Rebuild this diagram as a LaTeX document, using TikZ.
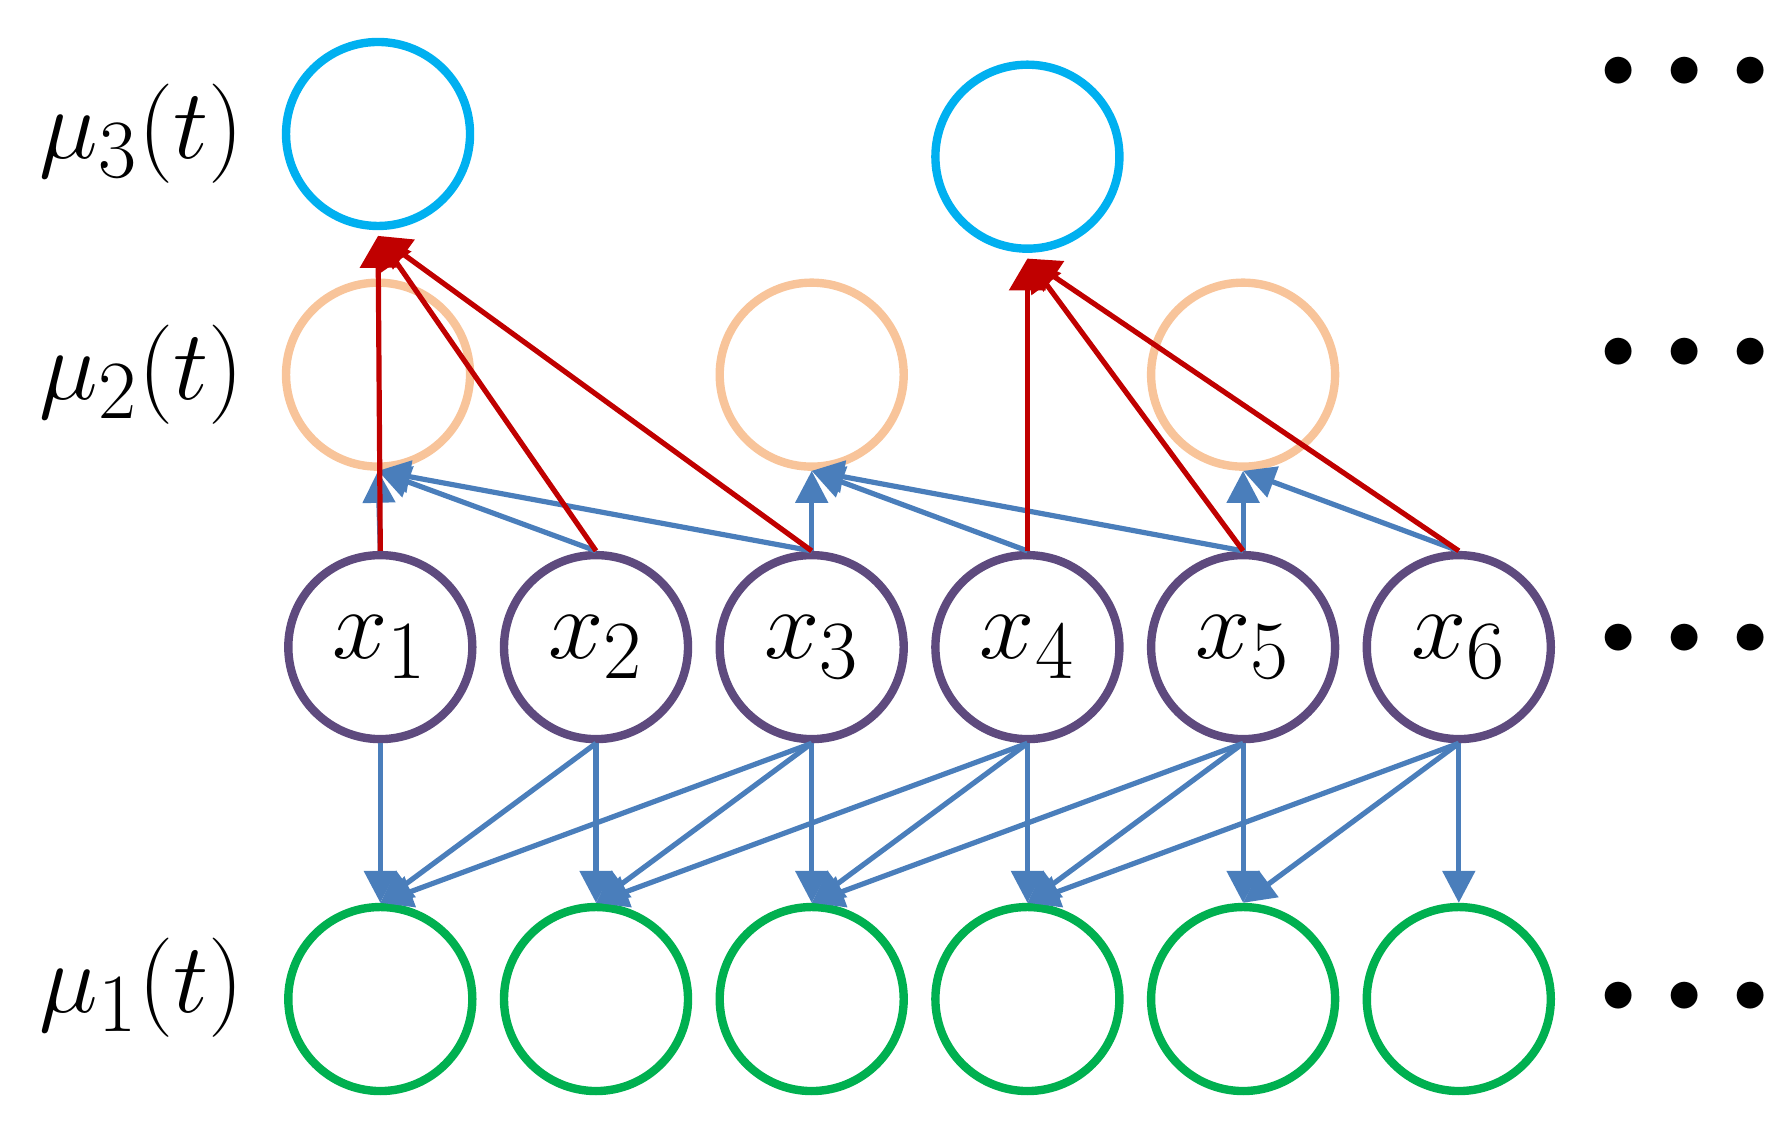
\documentclass[tikz,border=0pt]{standalone}
\usetikzlibrary{arrows.meta}
\definecolor{cb}{HTML}{00B0F0}
\definecolor{co}{HTML}{F8C49A}
\definecolor{cp}{HTML}{5E4A7E}
\definecolor{cg}{HTML}{00B050}
\definecolor{ca}{HTML}{4A7EBB}
\definecolor{cr}{HTML}{C00000}
\begin{document}
\begin{tikzpicture}[x=0.01cm,y=-0.01cm,
  nd/.style={circle,minimum size=1.62cm,inner sep=0pt,line width=2.1pt},
  lab/.style={font=\fontsize{30}{36}\selectfont},
  dots/.style={font=\fontsize{30}{30}\selectfont,inner sep=0pt},
  ba/.style={ca,line width=1.3pt,-{Triangle[length=8pt,width=8pt]}},
  ra/.style={cr,line width=1.3pt,-{Triangle[length=8pt,width=9pt]}}]
\useasboundingbox (0,0) rectangle (1560,990);
\node[nd,draw=cb] (t1) at (333,118) {};
\node[nd,draw=cb] (t2) at (905,138) {};
\node[nd,draw=co] (m1) at (333,330) {};
\node[nd,draw=co] (m2) at (715,330) {};
\node[nd,draw=co] (m3) at (1095,330) {};
\foreach \i/\x in {1/335,2/525,3/715,4/905,5/1095,6/1285}{
  \node[nd,draw=cp,lab] (x\i) at (\x,570) {$x_{\i}$};
  \node[nd,draw=cg] (g\i) at (\x,880) {};
}
\node[lab] (l3) at (125,118) {$\mu_3(t)$};
\node[lab] (l2) at (125,330) {$\mu_2(t)$};
\node[lab] (l1) at (125,870) {$\mu_1(t)$};
\foreach \y/\n in {70/d3,318/d2,570/dx,885/d1}{
  \node[dots] (\n) at (1484,\y) {\textbullet\hspace{-5pt}\textbullet\hspace{-5pt}\textbullet};
}
% to mu1
\foreach \a/\b in {1/1,2/1,2/2,3/1,3/2,3/3,4/2,4/3,4/4,5/3,5/4,5/5,6/4,6/5,6/6}{
  \draw[ba] (x\a.south) -- (g\b.north);
}
% to mu2
\foreach \a/\b in {1/1,2/1,3/1,3/2,4/2,5/2,5/3,6/3}{
  \draw[ba] (x\a.north) -- (m\b.south);
}
% to mu3
\foreach \a/\b in {1/1,2/1,3/1,4/2,5/2,6/2}{
  \draw[ra] (x\a.north) -- ([yshift=-0.05cm]t\b.south);
}
\end{tikzpicture}
\end{document}
